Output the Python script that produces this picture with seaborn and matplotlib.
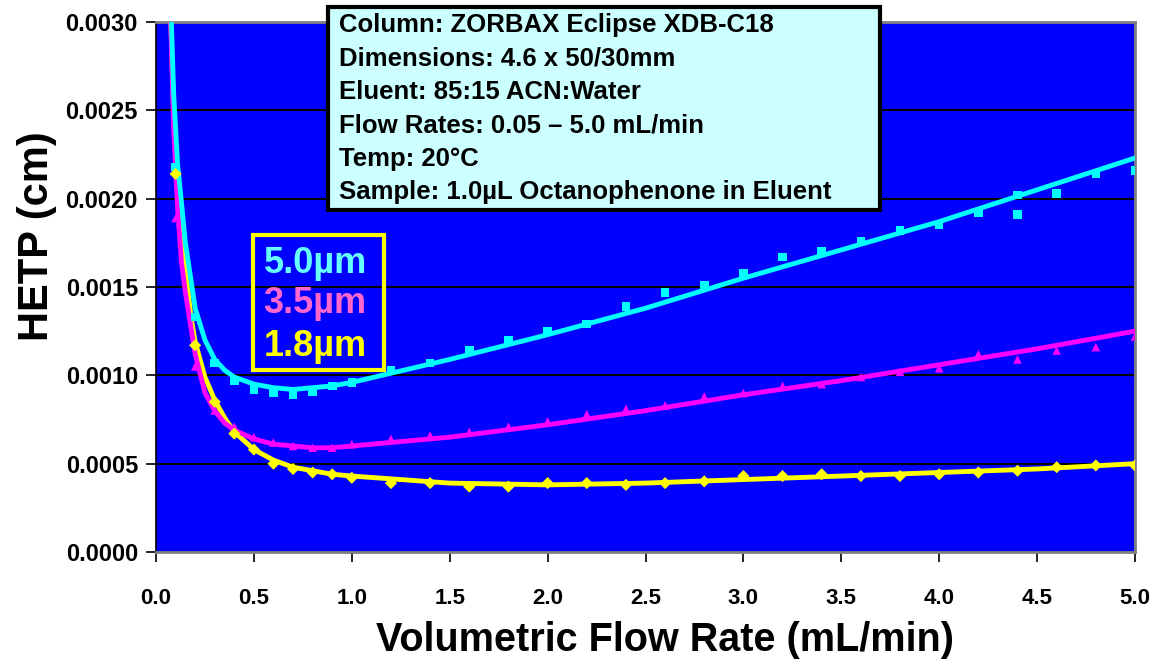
import pandas as pd
import seaborn as sns
from matplotlib import pyplot as plt
from matplotlib.patches import Rectangle

# fitted van Deemter curves
fit_x = [0.07, 0.09, 0.11, 0.13, 0.15, 0.18, 0.2, 0.25, 0.3, 0.35, 0.4, 0.5, 0.6, 0.7,
         0.8, 0.9, 1.0, 1.5, 2.0, 2.5, 3.0, 3.5, 4.0, 4.5, 5.0]
fit_50 = [0.0033, 0.0026, 0.0022, 0.00198, 0.00175, 0.00153, 0.00138, 0.0012, 0.00109,
          0.00103, 0.00099, 0.00095, 0.00093, 0.00092, 0.00093, 0.00094, 0.00096, 0.00109,
          0.00123, 0.00138, 0.00155, 0.00171, 0.00187, 0.00205, 0.00223]
fit_35 = [0.0032, 0.0024, 0.00195, 0.00164, 0.00147, 0.00126, 0.00112, 0.0009, 0.0008,
          0.00073, 0.00069, 0.00064, 0.00061, 0.0006, 0.00059, 0.00059, 0.0006, 0.00065,
          0.00072, 0.0008, 0.00089, 0.00097, 0.00106, 0.00115, 0.00125]
fit_18 = [0.0032, 0.0025, 0.0021, 0.00178, 0.0016, 0.00132, 0.00119, 0.00099, 0.00086,
          0.00076, 0.00068, 0.00058, 0.00052, 0.00048, 0.00046, 0.00044, 0.00043, 0.00039,
          0.00038, 0.00039, 0.00041, 0.00043, 0.00045, 0.00047, 0.0005]

# measured points
pts_x = [0.1, 0.2, 0.3, 0.4, 0.5, 0.6, 0.7, 0.8, 0.9, 1.0, 1.2, 1.4, 1.6, 1.8, 2.0,
         2.2, 2.4, 2.6, 2.8, 3.0, 3.2, 3.4, 3.6, 3.8, 4.0, 4.2, 4.4, 4.6, 4.8, 5.0]
pts_x_50 = pts_x[:27] + [4.4] + pts_x[27:]
pts_50 = [0.00218, 0.00133, 0.00107, 0.00097, 0.00092, 0.0009, 0.00089, 0.00091, 0.00094,
          0.00096, 0.00103, 0.00107, 0.00114, 0.0012, 0.00125, 0.00129, 0.00139, 0.00147,
          0.00151, 0.00158, 0.00167, 0.0017, 0.00176, 0.00182, 0.00185, 0.00192, 0.00202,
          0.00191, 0.00203, 0.00214, 0.00216]
pts_35 = [0.00189, 0.00105, 0.0008, 0.00071, 0.00065, 0.00062, 0.0006, 0.00059, 0.00059,
          0.00061, 0.00064, 0.00066, 0.00068, 0.00071, 0.00074, 0.00078, 0.00081, 0.00083,
          0.00088, 0.0009, 0.00094, 0.00095, 0.00099, 0.00102, 0.00104, 0.00112, 0.00109,
          0.00114, 0.00116, 0.00122]
pts_18 = [0.00214, 0.00117, 0.00085, 0.00067, 0.00058, 0.0005, 0.00047, 0.00045, 0.00044,
          0.00042, 0.00039, 0.00039, 0.00037, 0.00037, 0.00039, 0.00039, 0.00038, 0.00039,
          0.0004, 0.00043, 0.00043, 0.00044, 0.00043, 0.00043, 0.00044, 0.00045, 0.00046,
          0.00048, 0.00049, 0.00049]

sizes = ['5.0µm', '3.5µm', '1.8µm']
line_colors = {'5.0µm': '#00FFFF', '3.5µm': '#FF00FF', '1.8µm': '#FFFF00'}
label_colors = ['#66FFFF', '#FF66CC', '#FFFF00']
markers = {'5.0µm': 's', '3.5µm': '^', '1.8µm': 'D'}

info_lines = ['Column: ZORBAX Eclipse XDB-C18',
              'Dimensions: 4.6 x 50/30mm',
              'Eluent: 85:15 ACN:Water',
              'Flow Rates: 0.05 \u2013 5.0 mL/min',
              'Temp: 20°C',
              'Sample: 1.0µL Octanophenone in Eluent']

fits = pd.DataFrame({
    'flow': fit_x * 3,
    'hetp': fit_50 + fit_35 + fit_18,
    'size': [s for s in sizes for _ in fit_x],
})
pts = pd.DataFrame({
    'flow': pts_x_50 + pts_x + pts_x,
    'hetp': pts_50 + pts_35 + pts_18,
    'size': ['5.0µm'] * len(pts_50) + ['3.5µm'] * len(pts_35) + ['1.8µm'] * len(pts_18),
})

sns.set_style('white')
plt.rcParams['font.family'] = ['Liberation Sans', 'DejaVu Sans']
plt.rcParams['font.weight'] = 'bold'
plt.rcParams['text.color'] = 'black'
plt.rcParams['axes.labelcolor'] = 'black'
plt.rcParams['xtick.color'] = 'black'
plt.rcParams['ytick.color'] = 'black'

fig = plt.figure(figsize=(11.58, 6.65), dpi=100)
ax = fig.add_axes([156 / 1158, 1 - 552 / 665, 979 / 1158, 530 / 665])
ax.set_facecolor('#0000FF')

for y in [0.0005, 0.001, 0.0015, 0.002, 0.0025]:
    ax.axhline(y, color='black', lw=1.5, zorder=1)

# cyan curve drawn last so it sits on top, as in the original
sns.lineplot(data=fits, x='flow', y='hetp', hue='size', hue_order=sizes[::-1],
             palette=line_colors, estimator=None, sort=False, lw=3.5, legend=False,
             ax=ax, zorder=3)
sns.scatterplot(data=pts, x='flow', y='hetp', hue='size', style='size', markers=markers,
                palette=line_colors, s=38, linewidth=0, legend=False, ax=ax, zorder=4)

ax.set_xlim(0, 5)
ax.set_ylim(0, 0.003)
ax.set_xticks([i * 0.5 for i in range(11)])
ax.set_xticklabels([f'{i * 0.5:.1f}' for i in range(11)], fontsize=16, weight='bold')
ax.set_yticks([i * 0.0005 for i in range(7)])
ax.set_yticklabels([f'{i * 0.0005:.4f}' for i in range(7)], fontsize=17, weight='bold')
ax.tick_params(axis='x', direction='out', length=7, width=1.2, pad=19, bottom=True)
ax.tick_params(axis='y', direction='out', length=7, width=1.2, pad=6, left=True)

for side in ['top', 'right', 'bottom']:
    ax.spines[side].set_color('#808080')
    ax.spines[side].set_linewidth(2)
ax.spines['left'].set_color('black')
ax.spines['left'].set_linewidth(1.2)

ax.set_xlabel('Volumetric Flow Rate (mL/min)', fontsize=28.5, weight='bold')
ax.xaxis.set_label_coords(0.52, -0.166)
ax.xaxis.label.set_va('center')
ax.set_ylabel('HETP (cm)', fontsize=30, weight='bold')
ax.yaxis.set_label_coords(-0.122, 0.596)
ax.yaxis.label.set_va('center')

# particle size key
ax.add_patch(Rectangle((0.099, 0.343), 0.134, 0.255, transform=ax.transAxes,
                       facecolor='none', edgecolor='#FFFF00', lw=3, zorder=5))
for label, color, yy in zip(sizes, label_colors, [0.545, 0.468, 0.388]):
    ax.text(0.110, yy, label, color=color, fontsize=26, weight='bold',
            transform=ax.transAxes, va='center', ha='left', zorder=6)

# conditions box
fig.patches.append(Rectangle((328 / 1158, 1 - 210 / 665), 552 / 1158, 203 / 665,
                             transform=fig.transFigure, facecolor='#CCFFFF',
                             edgecolor='black', lw=3, zorder=10))
for i, line in enumerate(info_lines):
    fig.text(339 / 1158, 1 - (25 + i * 33.4) / 665, line, fontsize=18.5, weight='bold',
             va='center', ha='left', color='black', zorder=11)

plt.savefig('out.png', dpi=100)
